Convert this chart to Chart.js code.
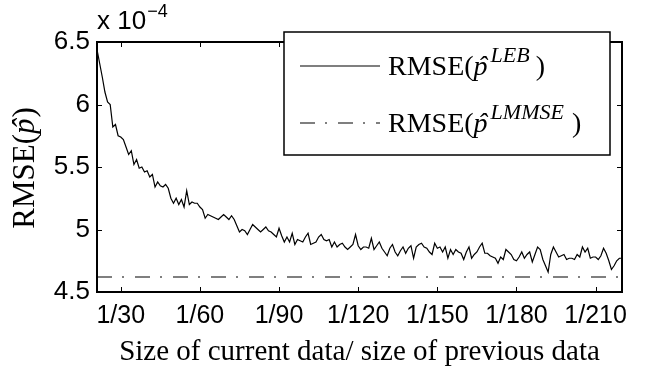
<!DOCTYPE html>
<html>
<head>
<meta charset="utf-8">
<script src="https://cdn.jsdelivr.net/npm/chart.js@4"></script>
<style>
  html, body { margin: 0; padding: 0; background: #fff; }
  #wrap { width: 650px; height: 371px; }
</style>
</head>
<body>
<div id="wrap"><canvas id="rmseChart" width="650" height="371"></canvas></div>
<script>
// データ（x = 21 から始まる連番）
const FIRST_N = 21;
const lebValues = [
  6.44, 6.33, 6.22, 6.10, 6.02, 6.00, 5.82, 5.84, 5.75, 5.74,
  5.72, 5.66, 5.60, 5.63, 5.52, 5.56, 5.49, 5.50, 5.46, 5.47,
  5.42, 5.44, 5.34, 5.38, 5.35, 5.34, 5.36, 5.33, 5.25, 5.21,
  5.25, 5.20, 5.24, 5.18, 5.31, 5.20, 5.22, 5.21, 5.21, 5.18,
  5.16, 5.09, 5.12, 5.11, 5.10, 5.09, 5.08, 5.10, 5.12, 5.10,
  5.08, 5.11, 5.08, 5.03, 4.98, 5.00, 4.99, 4.96, 5.00, 5.04,
  5.02, 5.00, 4.98, 5.00, 5.02, 4.99, 4.98, 4.96, 4.94, 5.01,
  4.95, 4.90, 4.94, 4.90, 4.97, 4.88, 4.92, 4.91, 4.90, 4.94,
  4.97, 4.88, 4.89, 4.90, 4.94, 4.96, 4.92, 4.91, 4.92, 4.86,
  4.90, 4.86, 4.88, 4.89, 4.86, 4.84, 4.86, 4.88, 4.96, 4.87,
  4.84, 4.86, 4.86, 4.85, 4.93, 4.84, 4.87, 4.90, 4.85, 4.82,
  4.79, 4.85, 4.88, 4.82, 4.79, 4.83, 4.86, 4.81, 4.85, 4.87,
  4.77, 4.86, 4.88, 4.89, 4.86, 4.85, 4.82, 4.80, 4.89, 4.85,
  4.86, 4.82, 4.86, 4.77, 4.84, 4.80, 4.84, 4.82, 4.81, 4.76,
  4.82, 4.86, 4.77, 4.80, 4.82, 4.86, 4.89, 4.81, 4.81, 4.79,
  4.78, 4.77, 4.73, 4.78, 4.76, 4.84, 4.82, 4.80, 4.76, 4.75,
  4.78, 4.82, 4.77, 4.80, 4.82, 4.74, 4.80, 4.86, 4.84, 4.76,
  4.71, 4.66, 4.80, 4.86, 4.82, 4.78, 4.79, 4.80, 4.76, 4.77,
  4.77, 4.76, 4.80, 4.78, 4.86, 4.82, 4.85, 4.77, 4.78, 4.78,
  4.76, 4.79, 4.85, 4.81, 4.75, 4.68, 4.71, 4.75, 4.77, 4.77
];
const lmmseValue = 4.62;
const xTickValues = [30, 60, 90, 120, 150, 180, 210];
const yTickValues = [4.5, 5, 5.5, 6, 6.5];

const SANS = '"Liberation Sans", Arial, sans-serif';
const SERIF = '"Liberation Serif", "Times New Roman", serif';
const DASH_DOT = [15, 10, 2, 11];

const lastN = FIRST_N + lebValues.length - 1;
const lebPoints = lebValues.map((v, i) => ({ x: FIRST_N + i, y: v }));
const lmmsePoints = [{ x: FIRST_N, y: lmmseValue }, { x: lastN, y: lmmseValue }];

/**
 * 文字列パーツを横に並べて描く（上付き対応）
 */
function drawRich(ctx, x, y, parts) {
  parts.forEach(p => {
    ctx.font = p.font;
    ctx.fillText(p.t, x, y + (p.dy || 0));
    if (p.hat) {
      // p の上にハット記号
      const w = ctx.measureText(p.t).width;
      ctx.fillText('\u02C6', x + w * 0.3, y);
    }
    x += ctx.measureText(p.t).width + (p.gap || 0);
  });
}

function richWidth(ctx, parts) {
  let total = 0;
  parts.forEach(p => { ctx.font = p.font; total += ctx.measureText(p.t).width + (p.gap || 0); });
  return total;
}

/**
 * 内向きの目盛り・枠線・凡例・指数ラベル
 */
const matlabStyle = {
  id: 'matlabStyle',
  afterDraw(chart) {
    const ctx = chart.ctx;
    const area = chart.chartArea;
    const xs = chart.scales.x;
    const ys = chart.scales.y;
    const TL = 5;

    ctx.save();
    ctx.strokeStyle = '#000';
    ctx.lineWidth = 1;
    ctx.beginPath();
    xTickValues.forEach(v => {
      const px = Math.round(xs.getPixelForValue(v)) + 0.5;
      ctx.moveTo(px, area.bottom); ctx.lineTo(px, area.bottom - TL);
      ctx.moveTo(px, area.top); ctx.lineTo(px, area.top + TL);
    });
    yTickValues.forEach(v => {
      const py = Math.round(ys.getPixelForValue(v)) + 0.5;
      ctx.moveTo(area.left, py); ctx.lineTo(area.left + TL, py);
      ctx.moveTo(area.right, py); ctx.lineTo(area.right - TL, py);
    });
    ctx.stroke();

    // 枠線
    ctx.lineWidth = 2;
    ctx.strokeRect(area.left, area.top, area.right - area.left, area.bottom - area.top);

    // 指数ラベル x 10^-4
    ctx.fillStyle = '#000';
    ctx.textBaseline = 'alphabetic';
    ctx.textAlign = 'left';
    ctx.font = '26px ' + SANS;
    ctx.fillText('x 10', area.left, 29);
    const w10 = ctx.measureText('x 10').width;
    ctx.font = '18px ' + SANS;
    ctx.fillText('\u22124', area.left + w10 + 1, 17);

    // 凡例
    const bx = 284, by = 32, bw = 326, bh = 123;
    ctx.fillStyle = '#fff';
    ctx.fillRect(bx, by, bw, bh);
    ctx.lineWidth = 1.5;
    ctx.strokeRect(bx, by, bw, bh);

    ctx.lineWidth = 1.2;
    ctx.beginPath();
    ctx.moveTo(300, 66); ctx.lineTo(380, 66);
    ctx.stroke();
    ctx.setLineDash(DASH_DOT);
    ctx.beginPath();
    ctx.moveTo(300, 123); ctx.lineTo(380, 123);
    ctx.stroke();
    ctx.setLineDash([]);

    ctx.fillStyle = '#000';
    const big = '28px ' + SERIF;
    const bigIt = 'italic 28px ' + SERIF;
    const sup = 'italic 22px ' + SERIF;
    drawRich(ctx, 388, 75, [
      { t: 'RMSE(', font: big },
      { t: 'p', font: bigIt, hat: true, gap: 3 },
      { t: 'LEB', font: sup, dy: -13, gap: 6 },
      { t: ')', font: big }
    ]);
    drawRich(ctx, 388, 132, [
      { t: 'RMSE(', font: big },
      { t: 'p', font: bigIt, hat: true, gap: 3 },
      { t: 'LMMSE', font: sup, dy: -13, gap: 8 },
      { t: ')', font: big }
    ]);

    // y軸タイトル
    ctx.translate(34, 168);
    ctx.rotate(-Math.PI / 2);
    const yParts = [
      { t: 'RMSE(', font: '31px ' + SERIF },
      { t: 'p', font: 'italic 31px ' + SERIF, hat: true, gap: 1 },
      { t: ')', font: '31px ' + SERIF }
    ];
    drawRich(ctx, -richWidth(ctx, yParts) / 2, 0, yParts);
    ctx.restore();
  }
};

const ctx = document.getElementById('rmseChart').getContext('2d');
new Chart(ctx, {
  type: 'line',
  data: {
    datasets: [
      {
        label: 'LEB',
        data: lebPoints,
        borderColor: '#000',
        borderWidth: 1.2,
        pointRadius: 0,
        tension: 0,
        fill: false
      },
      {
        label: 'LMMSE',
        data: lmmsePoints,
        borderColor: '#000',
        borderWidth: 1.2,
        borderDash: DASH_DOT,
        pointRadius: 0,
        fill: false
      }
    ]
  },
  options: {
    responsive: false,
    animation: false,
    layout: { padding: { left: 0, top: 42, right: 28, bottom: 0 } },
    plugins: {
      legend: { display: false },
      tooltip: { enabled: false }
    },
    scales: {
      x: {
        type: 'linear',
        min: FIRST_N,
        max: lastN,
        afterBuildTicks: s => { s.ticks = xTickValues.map(v => ({ value: v })); },
        afterFit: s => { s.height = 79; },
        grid: { display: false, drawTicks: false },
        border: { display: false },
        ticks: {
          color: '#000',
          font: { family: SANS, size: 25 },
          padding: 9,
          maxRotation: 0,
          autoSkip: false,
          callback: v => '1/' + v
        },
        title: {
          display: true,
          text: 'Size of current data/ size of previous data',
          color: '#000',
          font: { family: SERIF, size: 29 },
          padding: { top: 0, bottom: 1 }
        }
      },
      y: {
        min: 4.5,
        max: 6.5,
        afterBuildTicks: s => { s.ticks = yTickValues.map(v => ({ value: v })); },
        afterFit: s => { s.width = 97; },
        grid: { display: false, drawTicks: false },
        border: { display: false },
        ticks: {
          color: '#000',
          font: { family: SANS, size: 26 },
          padding: 7,
          callback: v => String(v)
        }
      }
    }
  },
  plugins: [matlabStyle]
});
</script>
</body>
</html>
